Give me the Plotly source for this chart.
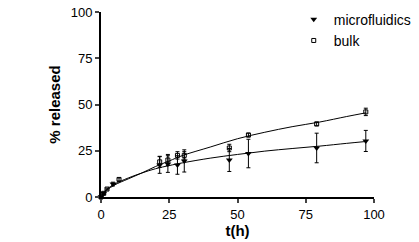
import plotly.graph_objects as go

# measured data
t_micro = [0, 1, 4.4, 21.5, 24.5, 28, 30.5, 47, 54, 79, 97]
y_micro = [0, 2, 7, 17.3, 17.8, 17.3, 19.5, 20, 23.5, 26.5, 30.3]
e_micro = [0, 0.5, 1, 4.5, 4.5, 5, 6, 6.2, 7.7, 8, 5.7]

t_bulk = [0, 1, 2.2, 6.6, 21.5, 24.5, 28, 30.5, 47, 54, 79, 97]
y_bulk = [0, 2, 4.3, 9.5, 19, 20, 22.5, 22.5, 26.5, 33.5, 39.5, 46]
e_bulk = [0, 0.5, 0.5, 0.8, 3, 3, 2, 2, 2, 1, 1, 2]

# fitted curves
t_fit = [0, 2, 5, 10, 15, 20, 25, 30, 40, 50, 60, 70, 80, 90, 97]
fit_bulk = [0, 3.5, 6.5, 9.8, 13, 16.5, 19.5, 22.5, 27, 31.5, 35, 38, 40.5, 43.5, 45.5]
fit_micro = [0, 4, 7, 10.3, 13, 15.3, 17, 18.5, 21, 23, 24.8, 26.2, 27.5, 29, 30]

x_ticks = [0, 25, 50, 75, 100]
y_ticks = [0, 25, 50, 75, 100]

fig = go.Figure()
fig.add_trace(go.Scatter(x=t_fit, y=fit_micro, mode="lines", line=dict(color="black", width=1, shape="spline"),
                         showlegend=False, hoverinfo="skip", cliponaxis=False))
fig.add_trace(go.Scatter(x=t_fit, y=fit_bulk, mode="lines", line=dict(color="black", width=1, shape="spline"),
                         showlegend=False, hoverinfo="skip", cliponaxis=False))
fig.add_trace(go.Scatter(x=t_micro, y=y_micro, mode="markers", name="microfluidics",
                         marker=dict(symbol="triangle-down", size=6, color="black"),
                         error_y=dict(type="data", array=e_micro, color="black", thickness=1, width=2),
                         cliponaxis=False))
fig.add_trace(go.Scatter(x=t_bulk, y=y_bulk, mode="markers", name="bulk",
                         marker=dict(symbol="square-open", size=4, color="black", line=dict(width=1)),
                         error_y=dict(type="data", array=e_bulk, color="black", thickness=1, width=2),
                         cliponaxis=False))

fig.update_layout(
    width=419, height=242,
    margin=dict(l=101, r=45, t=12, b=45, autoexpand=False),
    paper_bgcolor="white", plot_bgcolor="white",
    font=dict(family="Liberation Sans, Arial, sans-serif", size=13, color="black"),
    legend=dict(x=0.706, y=1.045, xanchor="left", yanchor="top", bgcolor="rgba(0,0,0,0)",
                font=dict(size=14), itemwidth=30, tracegroupgap=0),
)
fig.update_xaxes(range=[0, 100], tickvals=x_ticks, ticks="outside", ticklen=4, tickwidth=1.5,
                 showline=True, linecolor="black", linewidth=2, showgrid=False, zeroline=False,
                 automargin=False,
                 title=dict(text="<b>t(h)</b>", font=dict(size=15), standoff=5))
fig.update_yaxes(range=[0, 100], tickvals=y_ticks, ticks="outside", ticklen=4, tickwidth=1.5,
                 showline=True, linecolor="black", linewidth=2, showgrid=False, zeroline=False,
                 automargin=False,
                 title=dict(text="<b>% released</b>", font=dict(size=15), standoff=6))

fig.write_html("out.html")
